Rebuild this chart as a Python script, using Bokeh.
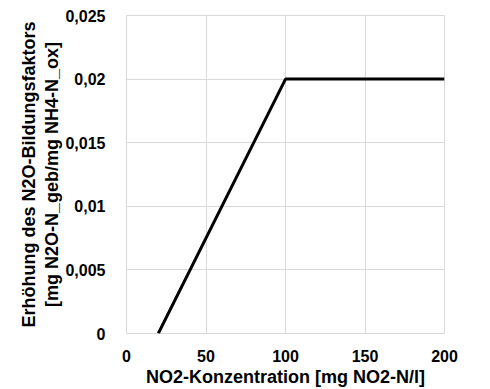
from bokeh.plotting import figure
from bokeh.models import FixedTicker, CustomJSTickFormatter, Range1d
from bokeh.embed import file_html
from bokeh.resources import INLINE

x_vals = [20, 100, 200]
y_vals = [0.0, 0.02, 0.02]
x_ticks = [0, 50, 100, 150, 200]
y_ticks = [0, 0.005, 0.01, 0.015, 0.02, 0.025]
x_title = "NO2-Konzentration [mg NO2-N/l]"
y_title = "Erhöhung des N2O-Bildungsfaktors\n[mg N2O-N_geb/mg NH4-N_ox]"

W, H = 490, 389
p = figure(width=W, height=H, output_backend="svg", toolbar_location=None,
           x_range=Range1d(0, 200), y_range=Range1d(0, 0.025),
           min_border_left=126, min_border_right=W - 444, min_border_top=15,
           min_border_bottom=H - 333)
p.outline_line_color = "#d9d9d9"
p.background_fill_color = "white"

p.line(x_vals, y_vals, line_color="black", line_width=3)

for ax in (p.xaxis[0], p.yaxis[0]):
    ax.axis_line_color = None
    ax.major_tick_line_color = None
    ax.minor_tick_line_color = None
    ax.major_label_text_font = "Liberation Sans"
    ax.major_label_text_font_style = "bold"
    ax.major_label_text_font_size = "16px"
    ax.major_label_text_color = "black"
    ax.axis_label_text_font = "Liberation Sans"
    ax.axis_label_text_font_style = "bold"
    ax.axis_label_text_font_size = "18px"
    ax.axis_label_text_color = "black"

p.xaxis.ticker = FixedTicker(ticks=x_ticks)
p.yaxis.ticker = FixedTicker(ticks=y_ticks)
p.xaxis.major_label_standoff = 10
p.yaxis.major_label_standoff = 15
p.yaxis.formatter = CustomJSTickFormatter(code="""
if (Math.abs(tick) < 1e-12) { return "0"; }
var s = tick.toFixed(3).replace(/0+$/, "");
return s.replace(".", ",");
""")
p.xaxis.axis_label = x_title
p.yaxis.axis_label = y_title
p.xaxis.axis_label_standoff = 2
p.yaxis.axis_label_standoff = 0
p.yaxis.axis_label_text_line_height = 1.15

p.xgrid.ticker = FixedTicker(ticks=x_ticks)
p.ygrid.ticker = FixedTicker(ticks=y_ticks)
p.grid.grid_line_color = "#d9d9d9"
p.grid.grid_line_width = 1

open("out.html", "w").write(file_html(p, INLINE))
